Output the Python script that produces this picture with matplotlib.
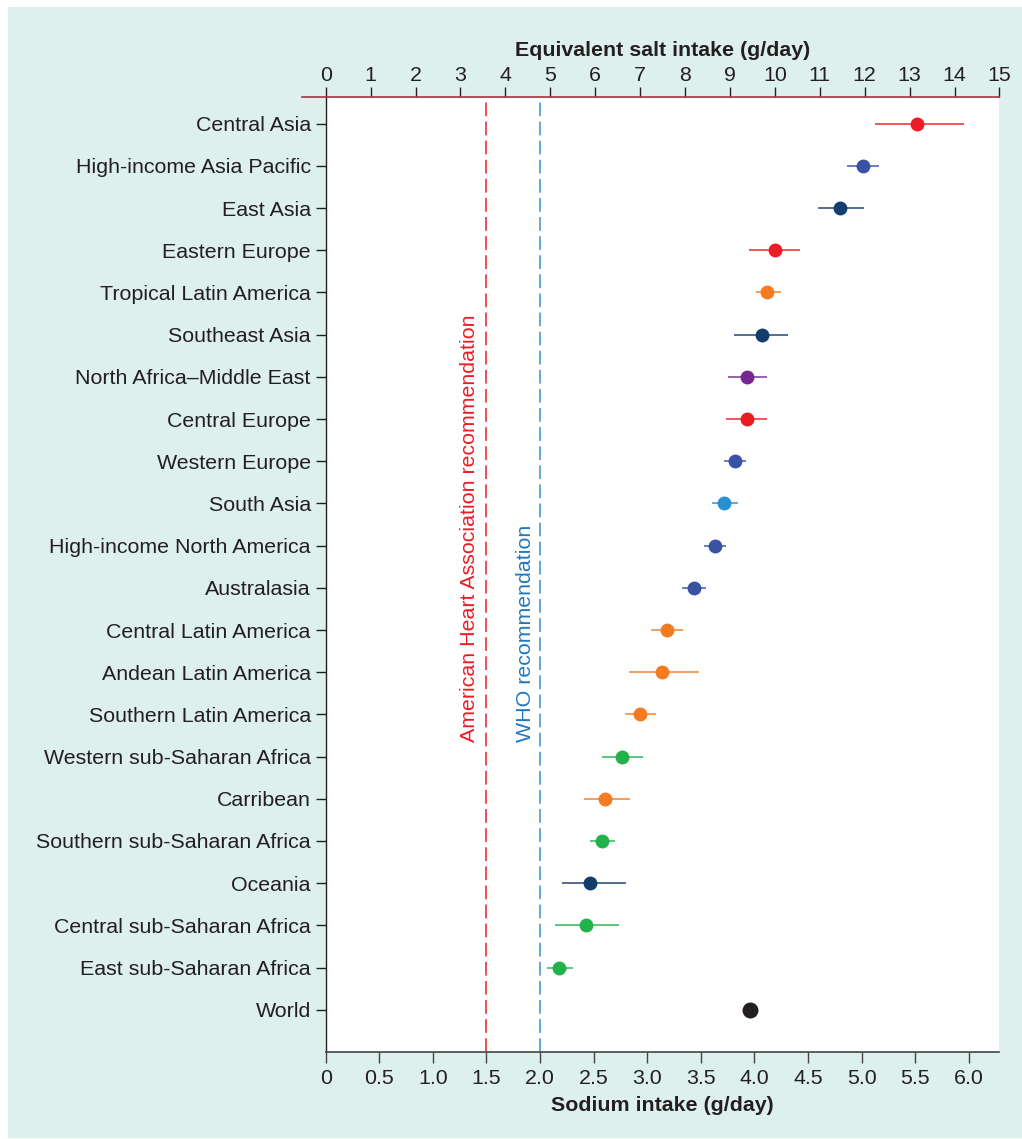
import matplotlib.pyplot as plt
import numpy as np
from matplotlib.patches import Rectangle

plt.rcParams["font.family"] = ["Liberation Sans", "DejaVu Sans"]

# mean sodium intake by GBD region (g/day) with 95% uncertainty interval
regions = [
    "Central Asia", "High-income Asia Pacific", "East Asia", "Eastern Europe",
    "Tropical Latin America", "Southeast Asia", "North Africa\u2013Middle East",
    "Central Europe", "Western Europe", "South Asia", "High-income North America",
    "Australasia", "Central Latin America", "Andean Latin America",
    "Southern Latin America", "Western sub-Saharan Africa", "Carribean",
    "Southern sub-Saharan Africa", "Oceania", "Central sub-Saharan Africa",
    "East sub-Saharan Africa", "World",
]
super_regions = [
    "CEE", "HI", "SEA", "CEE", "LAC", "SEA", "NAME", "CEE", "HI", "SA", "HI",
    "HI", "LAC", "LAC", "LAC", "SSA", "LAC", "SSA", "SEA", "SSA", "SSA", "World",
]
sodium = [5.52, 5.01, 4.80, 4.19, 4.12, 4.07, 3.93, 3.93, 3.82, 3.72, 3.63,
          3.44, 3.18, 3.14, 2.93, 2.76, 2.61, 2.58, 2.47, 2.43, 2.18, 3.96]
sodium_lo = [5.12, 4.86, 4.59, 3.95, 4.01, 3.81, 3.75, 3.73, 3.72, 3.60, 3.53,
             3.32, 3.03, 2.83, 2.79, 2.58, 2.41, 2.47, 2.20, 2.14, 2.06, 3.96]
sodium_hi = [5.95, 5.16, 5.02, 4.42, 4.25, 4.31, 4.12, 4.12, 3.92, 3.85, 3.73,
             3.55, 3.33, 3.48, 3.08, 2.96, 2.84, 2.70, 2.80, 2.74, 2.31, 3.96]

salt_ticks = list(range(0, 16))
sodium_ticks = [0, 0.5, 1.0, 1.5, 2.0, 2.5, 3.0, 3.5, 4.0, 4.5, 5.0, 5.5, 6.0]
aha_limit = 1.5
who_limit = 2.0

colors = {
    "CEE": "#ed1c24",
    "HI": "#3a52a3",
    "SEA": "#123d6d",
    "LAC": "#f47b20",
    "NAME": "#76288f",
    "SA": "#2590d2",
    "SSA": "#22b24c",
    "World": "#231f20",
}
text_col = "#231f20"
fs = 15.4

fig = plt.figure(figsize=(10.22, 11.39), dpi=100)
fig.patches.append(Rectangle((8 / 1022, 2 / 1139), 1, 1 - 9 / 1139,
                             transform=fig.transFigure, color="#ddf0ed", zorder=-10))

ax = fig.add_axes([0.3187, 0.0766, 0.6592, 0.8385])
y = np.arange(len(regions))

for i in y:
    c = colors[super_regions[i]]
    if super_regions[i] == "World":
        ax.plot(sodium[i], i, "o", color=c, ms=11.5, mec="none", zorder=3)
        continue
    ax.plot([sodium_lo[i], sodium_hi[i]], [i, i], color=c, lw=1.3, alpha=0.8,
            solid_capstyle="butt", zorder=2)
    ax.plot(sodium[i], i, "o", color=c, ms=10, mec="none", zorder=3)

# recommendation lines
ax.axvline(aha_limit, color="#ed1c24", lw=1.1, dashes=(9, 3.5), zorder=1)
ax.axvline(who_limit, color="#3d8fcb", lw=1.1, dashes=(9, 3.5), zorder=1)
ax.text(aha_limit - 0.155, 14.65, "American Heart Association recommendation",
        rotation=90, ha="center", va="bottom", color="#ed1c24", fontsize=fs)
ax.text(who_limit - 0.14, 14.65, "WHO recommendation",
        rotation=90, ha="center", va="bottom", color="#1f78be", fontsize=fs)

ax.set_xlim(0, 6.285)
ax.set_ylim(len(regions) - 0.005, -0.64)
ax.set_yticks(y)
ax.set_yticklabels(regions, fontsize=fs, color=text_col)
ax.set_xticks(sodium_ticks)
ax.set_xticklabels(["0"] + [f"{t:.1f}" for t in sodium_ticks[1:]],
                   fontsize=fs, color=text_col)
ax.tick_params(axis="y", length=10 * 0.72, width=1.0, pad=3.5, color=text_col)
ax.tick_params(axis="x", length=11 * 0.72, width=1.0, pad=4.5, color="#444444")
ax.set_xlabel("Sodium intake (g/day)", fontsize=fs, fontweight="bold",
              color=text_col, labelpad=6)
for side in ["top", "right"]:
    ax.spines[side].set_visible(False)
ax.spines["left"].set_color(text_col)
ax.spines["bottom"].set_color("#444444")
ax.spines["left"].set_linewidth(1.0)
ax.spines["bottom"].set_linewidth(1.2)

# equivalent salt scale along the top
ax2 = ax.twiny()
ax2.set_xlim(0, 15)
ax2.set_xticks(salt_ticks)
ax2.set_xticklabels([str(t) for t in salt_ticks], fontsize=fs, color=text_col)
ax2.tick_params(axis="x", length=10 * 0.72, width=1.0, pad=1.5, color=text_col)
ax2.set_xlabel("Equivalent salt intake (g/day)", fontsize=fs,
               fontweight="bold", color=text_col, labelpad=7)
for side in ["top", "right", "left", "bottom"]:
    ax2.spines[side].set_visible(False)
ax2.plot([-0.035, 1.0], [1, 1], transform=ax2.transAxes, color="#a8323e",
         lw=1.2, clip_on=False, zorder=5)

fig.savefig("out.png", dpi=100)
